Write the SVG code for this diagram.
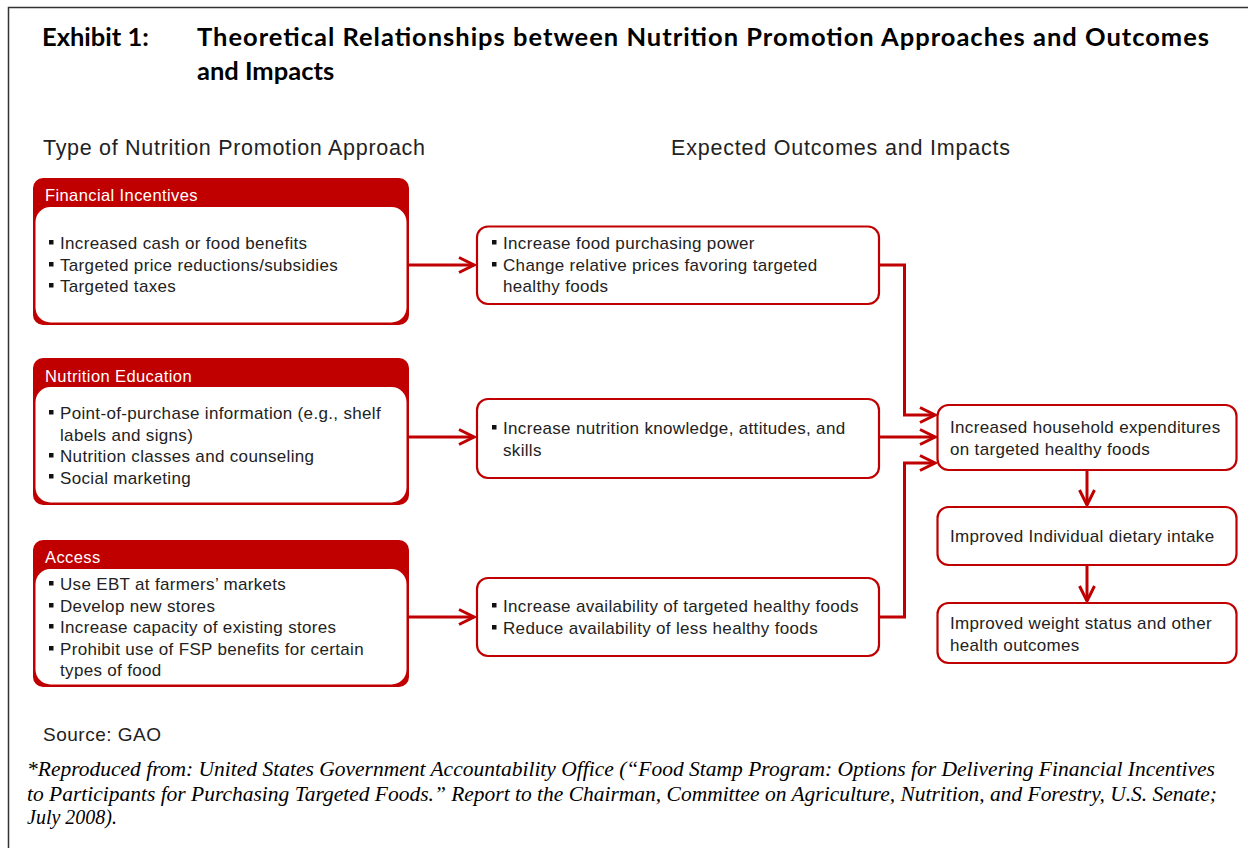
<svg xmlns="http://www.w3.org/2000/svg" width="1248" height="848" viewBox="0 0 1248 848">
<defs>
<style>
.title{font-family:Lato,"Liberation Sans",sans-serif;font-weight:bold;font-size:25.5px;fill:#000}
.sec{font-family:"Liberation Sans",Arial,sans-serif;font-size:21.5px;fill:#222}
.hd{font-family:"Liberation Sans",Arial,sans-serif;font-size:16.5px;letter-spacing:0.4px;fill:#fff}
.tx{font-family:"Liberation Sans",Arial,sans-serif;font-size:17px;letter-spacing:0.33px;fill:#222}
.src{font-family:"Liberation Sans",Arial,sans-serif;font-size:19px;letter-spacing:0.5px;fill:#222}
.fn{font-family:"Liberation Serif","Times New Roman",serif;font-style:italic;font-size:20px;fill:#000}
.hbox{fill:#c00000}
.inner{fill:#fff}
.box{fill:#fff;stroke:#c00000;stroke-width:2.2}
.bul{fill:#111}
.con{fill:none;stroke:#c00000;stroke-width:3}
</style>
<marker id="arr" viewBox="0 0 12 12" refX="11" refY="6" markerWidth="6" markerHeight="6" markerUnits="strokeWidth" orient="auto">
<path d="M1,1 L11,6 L1,11" fill="none" stroke="#c00000" stroke-width="2"/>
</marker>
</defs>
<rect width="1248" height="848" fill="#fff"/>
<path d="M8.5,848 V7.5 H1248" fill="none" stroke="#333" stroke-width="1.5"/>

<text class="title" x="42" y="46">Exhibit 1:</text>
<text class="title" x="197" y="46" textLength="1012">Theoretical Relationships between Nutrition Promotion Approaches and Outcomes</text>
<text class="title" x="197" y="80">and Impacts</text>

<text class="sec" x="43" y="155" textLength="382">Type of Nutrition Promotion Approach</text>
<text class="sec" x="671" y="155" textLength="339">Expected Outcomes and Impacts</text>

<g id="financial">
<rect class="hbox" x="33" y="178" width="376" height="147" rx="10"/>
<rect class="inner" x="35.5" y="207" width="371" height="115.5" rx="15"/>
<text class="hd" x="45" y="201">Financial Incentives</text>
<rect class="bul" x="49" y="240" width="4.5" height="4.5"/>
<rect class="bul" x="49" y="262" width="4.5" height="4.5"/>
<rect class="bul" x="49" y="283" width="4.5" height="4.5"/>
<text class="tx" x="60" y="249">Increased cash or food benefits</text>
<text class="tx" x="60" y="271">Targeted price reductions/subsidies</text>
<text class="tx" x="60" y="292">Targeted taxes</text>
</g>

<g id="education">
<rect class="hbox" x="33" y="358" width="376" height="147" rx="10"/>
<rect class="inner" x="35.5" y="387" width="371" height="115.5" rx="15"/>
<text class="hd" x="45" y="382">Nutrition Education</text>
<rect class="bul" x="49" y="410" width="4.5" height="4.5"/>
<rect class="bul" x="49" y="453" width="4.5" height="4.5"/>
<rect class="bul" x="49" y="474" width="4.5" height="4.5"/>
<text class="tx" x="60" y="419">Point-of-purchase information (e.g., shelf</text>
<text class="tx" x="60" y="441">labels and signs)</text>
<text class="tx" x="60" y="462">Nutrition classes and counseling</text>
<text class="tx" x="60" y="484">Social marketing</text>
</g>

<g id="access">
<rect class="hbox" x="33" y="540" width="376" height="147" rx="10"/>
<rect class="inner" x="35.5" y="569" width="371" height="115.5" rx="15"/>
<text class="hd" x="45" y="563">Access</text>
<rect class="bul" x="49" y="581" width="4.5" height="4.5"/>
<rect class="bul" x="49" y="603" width="4.5" height="4.5"/>
<rect class="bul" x="49" y="624" width="4.5" height="4.5"/>
<rect class="bul" x="49" y="646" width="4.5" height="4.5"/>
<text class="tx" x="60" y="590">Use EBT at farmers’ markets</text>
<text class="tx" x="60" y="612">Develop new stores</text>
<text class="tx" x="60" y="633">Increase capacity of existing stores</text>
<text class="tx" x="60" y="655">Prohibit use of FSP benefits for certain</text>
<text class="tx" x="60" y="676">types of food</text>
</g>

<g id="purchasing">
<rect class="box" x="477" y="226.5" width="402" height="77.5" rx="11"/>
<rect class="bul" x="492" y="240" width="4.5" height="4.5"/>
<rect class="bul" x="492" y="262" width="4.5" height="4.5"/>
<text class="tx" x="503" y="249">Increase food purchasing power</text>
<text class="tx" x="503" y="271">Change relative prices favoring targeted</text>
<text class="tx" x="503" y="292">healthy foods</text>
</g>

<g id="knowledge">
<rect class="box" x="477" y="399" width="402" height="79" rx="11"/>
<rect class="bul" x="492" y="425" width="4.5" height="4.5"/>
<text class="tx" x="503" y="434">Increase nutrition knowledge, attitudes, and</text>
<text class="tx" x="503" y="456">skills</text>
</g>

<g id="availability">
<rect class="box" x="477" y="578" width="402" height="78" rx="11"/>
<rect class="bul" x="492" y="603" width="4.5" height="4.5"/>
<rect class="bul" x="492" y="625" width="4.5" height="4.5"/>
<text class="tx" x="503" y="612">Increase availability of targeted healthy foods</text>
<text class="tx" x="503" y="634">Reduce availability of less healthy foods</text>
</g>

<g id="expenditures">
<rect class="box" x="937.5" y="405" width="299" height="65" rx="11"/>
<text class="tx" x="950" y="433">Increased household expenditures</text>
<text class="tx" x="950" y="455">on targeted healthy foods</text>
</g>

<g id="dietary">
<rect class="box" x="937.5" y="507" width="299" height="58" rx="11"/>
<text class="tx" x="950" y="542">Improved Individual dietary intake</text>
</g>

<g id="weight">
<rect class="box" x="937.5" y="603" width="299" height="60" rx="11"/>
<text class="tx" x="950" y="629">Improved weight status and other</text>
<text class="tx" x="950" y="651">health outcomes</text>
</g>

<g id="connectors">
<path class="con" d="M409,265 H474" marker-end="url(#arr)"/>
<path class="con" d="M409,437 H474" marker-end="url(#arr)"/>
<path class="con" d="M409,617 H474" marker-end="url(#arr)"/>
<path class="con" d="M879,265 H904.5 V415 H935" marker-end="url(#arr)"/>
<path class="con" d="M879,437 H935" marker-end="url(#arr)"/>
<path class="con" d="M879,617 H904.5 V463 H935" marker-end="url(#arr)"/>
<path class="con" d="M1087,470 V505" marker-end="url(#arr)"/>
<path class="con" d="M1087,565 V601" marker-end="url(#arr)"/>
</g>

<text class="src" x="43" y="741">Source: GAO</text>
<text class="fn" x="27" y="776" textLength="1188" lengthAdjust="spacingAndGlyphs">*Reproduced from:  United States Government Accountability Office (“Food Stamp Program: Options for Delivering Financial Incentives</text>
<text class="fn" x="27" y="801" textLength="1190" lengthAdjust="spacingAndGlyphs">to Participants for Purchasing Targeted Foods.” Report to the Chairman, Committee on Agriculture, Nutrition, and Forestry, U.S. Senate;</text>
<text class="fn" x="27" y="824">July 2008).</text>
</svg>
